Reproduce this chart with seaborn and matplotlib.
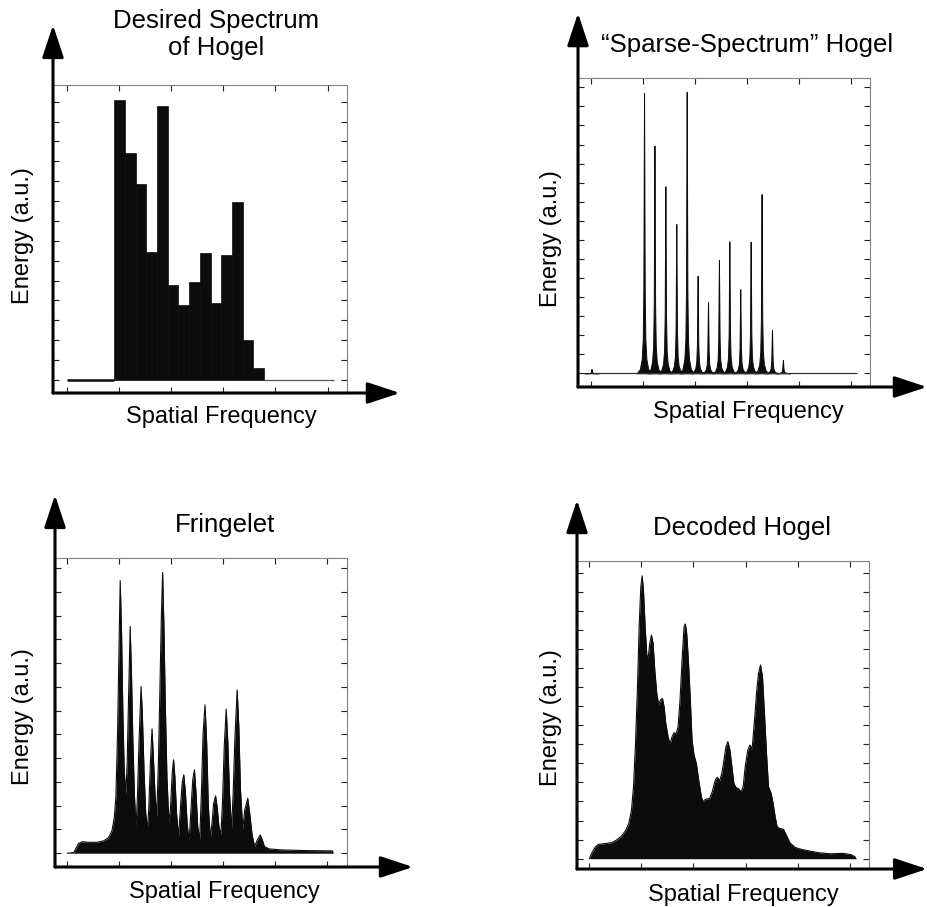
import numpy as np
import pandas as pd
import matplotlib
matplotlib.use('Agg')
import matplotlib.pyplot as plt
import seaborn as sns

# frequency axis runs in tick units (0..5); energy axis in tick units too
FREQ_MIN, FREQ_MAX = 0.0, 5.12

# centre frequencies of the 14 hogel components
FREQ = [1.02, 1.22, 1.43, 1.64, 1.84, 2.05, 2.25, 2.46, 2.66, 2.87, 3.07, 3.28, 3.48, 3.69]

# desired spectrum, one bar per component
DESIRED = [14.1, 11.4, 9.87, 6.45, 13.8, 4.76, 3.77, 4.91, 6.4, 3.86, 6.29, 8.95, 2.0, 0.59]
BAR_START = 0.912
BAR_WIDTH = 0.2048

# sparse-spectrum hogel: small DC spike + one spike per component
SPARSE_FREQ = [0.01] + FREQ
SPARSE = [0.23, 14.71, 11.94, 9.81, 7.83, 14.76, 5.11, 3.75, 5.95, 6.92, 4.41, 6.90, 9.40, 2.28, 0.70]

# fringelet spectrum (freq, energy)
FRINGELET = [
    (0.0, 0.0), (0.128, 0.03), (0.179, 0.25), (0.223, 0.42), (0.287, 0.48), (0.415, 0.46),
    (0.574, 0.46), (0.702, 0.52), (0.798, 0.66), (0.862, 0.95), (0.906, 1.47), (0.938, 2.38),
    (0.970, 5.05), (0.996, 8.42), (1.021, 11.47), (1.047, 9.26), (1.072, 5.89), (1.098, 3.51),
    (1.130, 2.45), (1.155, 3.79), (1.181, 6.45), (1.213, 9.54), (1.238, 7.57), (1.264, 4.77),
    (1.296, 2.38), (1.327, 1.12), (1.353, 2.38), (1.385, 4.77), (1.423, 7.01), (1.449, 5.75),
    (1.481, 3.37), (1.512, 1.68), (1.544, 1.01), (1.570, 1.82), (1.602, 3.79), (1.634, 5.23),
    (1.659, 4.07), (1.691, 2.52), (1.723, 1.51), (1.755, 3.65), (1.787, 7.01), (1.812, 9.82),
    (1.838, 11.81), (1.863, 9.54), (1.889, 6.31), (1.921, 3.23), (1.959, 1.26), (1.991, 1.96),
    (2.023, 3.37), (2.049, 3.93), (2.074, 3.23), (2.106, 1.68), (2.144, 0.70), (2.183, 1.96),
    (2.214, 2.95), (2.246, 3.30), (2.278, 2.52), (2.310, 1.26), (2.348, 0.49), (2.387, 1.96),
    (2.419, 3.09), (2.451, 3.51), (2.482, 2.52), (2.514, 1.12), (2.553, 0.59), (2.585, 2.52),
    (2.617, 5.05), (2.655, 6.24), (2.687, 4.63), (2.719, 1.96), (2.757, 0.63), (2.789, 1.26),
    (2.821, 2.10), (2.859, 2.41), (2.891, 1.89), (2.923, 1.12), (2.961, 0.77), (2.993, 2.24),
    (3.025, 4.49), (3.063, 6.06), (3.095, 4.63), (3.127, 2.52), (3.165, 1.01), (3.197, 2.52),
    (3.229, 4.77), (3.274, 6.87), (3.306, 5.33), (3.338, 2.66), (3.382, 1.01), (3.420, 1.82),
    (3.478, 2.31), (3.52, 1.6), (3.56, 0.8), (3.61, 0.28), (3.66, 0.55), (3.72, 0.77),
    (3.76, 0.55), (3.80, 0.28), (3.89, 0.18), (4.12, 0.14), (4.60, 0.11), (5.11, 0.10), (5.12, 0.0),
]

# decoded hogel spectrum (freq, energy)
DECODED = [
    (0.0, 0.0), (0.045, 0.28), (0.108, 0.59), (0.172, 0.75), (0.300, 0.79), (0.428, 0.84),
    (0.523, 0.98), (0.619, 1.19), (0.696, 1.47), (0.759, 1.85), (0.810, 2.55), (0.849, 3.78),
    (0.887, 6.05), (0.925, 9.02), (0.957, 12.17), (0.989, 14.27), (1.015, 14.83), (1.040, 14.09),
    (1.072, 12.17), (1.104, 10.68), (1.130, 10.51), (1.161, 11.29), (1.193, 11.73), (1.225, 11.29),
    (1.257, 9.90), (1.295, 8.67), (1.334, 8.06), (1.366, 8.32), (1.404, 8.41), (1.436, 7.97),
    (1.468, 7.10), (1.512, 6.40), (1.551, 6.01), (1.589, 6.40), (1.627, 6.61), (1.666, 6.54),
    (1.704, 6.92), (1.742, 8.32), (1.781, 10.42), (1.819, 12.17), (1.844, 12.31), (1.870, 11.82),
    (1.902, 10.42), (1.940, 8.32), (1.972, 6.22), (2.010, 5.44), (2.055, 5.00), (2.100, 4.13),
    (2.151, 3.25), (2.183, 2.99), (2.227, 3.11), (2.310, 3.16), (2.361, 3.51), (2.419, 4.13),
    (2.457, 4.27), (2.502, 4.09), (2.546, 4.48), (2.585, 5.17), (2.623, 5.87), (2.661, 6.14),
    (2.700, 5.70), (2.738, 4.83), (2.776, 3.95), (2.814, 3.74), (2.865, 3.67), (2.916, 3.51),
    (2.955, 3.78), (2.993, 4.83), (3.044, 5.70), (3.082, 5.96), (3.127, 5.79), (3.172, 7.27),
    (3.210, 8.67), (3.248, 9.72), (3.287, 10.16), (3.325, 9.55), (3.363, 7.62), (3.402, 5.52),
    (3.440, 3.78), (3.491, 3.43), (3.529, 2.90), (3.568, 2.20), (3.606, 1.68), (3.650, 1.59),
    (3.73, 1.54), (3.79, 1.19), (3.85, 0.84), (3.95, 0.59), (4.07, 0.49), (4.23, 0.40),
    (4.42, 0.31), (4.62, 0.26), (4.87, 0.28), (5.03, 0.21), (5.10, 0.10), (5.12, 0.0),
]

TITLES = ['Desired Spectrum\nof Hogel', '\u201cSparse-Spectrum\u201d Hogel', 'Fringelet', 'Decoded Hogel']
XLABEL = 'Spatial Frequency'
YLABEL = 'Energy (a.u.)'

# shape of one spike in the sparse spectrum (offset in freq, fraction of height)
SPIKE_DX = [-0.14, -0.08, -0.045, -0.025, -0.013, -0.006, 0.0, 0.006, 0.013, 0.025, 0.045, 0.08, 0.14]
SPIKE_REL = [0.0, 0.015, 0.05, 0.12, 0.3, 0.7, 1.0, 0.7, 0.3, 0.12, 0.05, 0.015, 0.0]

INK = '#0c0c0c'
W, H = 927, 907

sns.set_style('white')
plt.rcParams['font.family'] = ['Liberation Sans', 'DejaVu Sans']
plt.rcParams['text.color'] = 'black'

fig = plt.figure(figsize=(W / 100, H / 100), dpi=100)

# layout in pixels: box (left, top, right, bottom), limits, title/label anchors, arrow tips
panels = [
    dict(box=(53, 85, 347, 393), xlim=(-0.262, 5.37), ylim=(-0.654, 14.84), ny=15,
         title=(216, 55.5), xl=(221, 423), yl=(23, 236), tips=(1.18, 1.195)),
    dict(box=(578, 78, 870, 387), xlim=(-0.25, 5.365), ylim=(-0.72, 15.49), ny=16,
         title=(747, 51.7), xl=(748, 418), yl=(551, 239), tips=(1.195, 1.21)),
    dict(box=(55, 558, 347, 867), xlim=(-0.235, 5.39), ylim=(-0.58, 12.42), ny=13,
         title=(225, 531.7), xl=(224, 898), yl=(23, 717), tips=(1.226, 1.204)),
    dict(box=(577, 561, 869, 869), xlim=(-0.236, 5.37), ylim=(-0.54, 15.61), ny=16,
         title=(742, 535), xl=(743, 900.5), yl=(551, 718), tips=(1.199, 1.198)),
]

axes = []
for p in panels:
    l, t, r, b = p['box']
    ax = fig.add_axes([l / W, 1 - b / H, (r - l) / W, (b - t) / H])
    axes.append(ax)

# panel 1: desired spectrum as a weighted histogram
ax = axes[0]
df = pd.DataFrame({'freq': FREQ, 'energy': DESIRED})
bar_end = BAR_START + BAR_WIDTH * len(DESIRED)
sns.histplot(data=df, x='freq', weights='energy', binwidth=BAR_WIDTH,
             binrange=(BAR_START, bar_end), ax=ax, color=INK, alpha=1,
             edgecolor=INK, linewidth=0.5)
ax.hlines(0, FREQ_MIN, BAR_START, color=INK, lw=1.8)
ax.hlines(0, bar_end, FREQ_MAX, color='#555555', lw=0.9)

# panel 2: sparse spectrum spikes
ax = axes[1]
ax.hlines(0, FREQ_MIN, FREQ_MAX, color='#333333', lw=0.9)
for f, h in zip(SPARSE_FREQ, SPARSE):
    xs = f + np.array(SPIKE_DX)
    ys = h * np.array(SPIKE_REL)
    ax.fill_between(xs, 0, ys, color=INK, lw=0.7, edgecolor=INK)

# panels 3 and 4: continuous spectra
for ax, trace in [(axes[2], FRINGELET), (axes[3], DECODED)]:
    xs = [q[0] for q in trace]
    ys = [q[1] for q in trace]
    ax.fill_between(xs, 0, ys, color=INK, lw=0)
    sns.lineplot(x=xs, y=ys, ax=ax, color=INK, lw=0.8, sort=False, estimator=None)

for ax, p, title in zip(axes, panels, TITLES):
    ax.set_xlim(*p['xlim'])
    ax.set_ylim(*p['ylim'])
    ax.set_xticks(range(6))
    ax.set_yticks(range(p['ny']))
    ax.set_xlabel('')
    ax.set_ylabel('')
    ax.tick_params(direction='in', length=4.5, width=0.8, color='#222222',
                   top=True, right=True, bottom=True, left=True,
                   labelbottom=False, labelleft=False)
    for s in ax.spines.values():
        s.set_color('#808080')
        s.set_linewidth(0.8)
    ax.grid(False)

    # thick axes with arrow heads
    tx, ty = p['tips']
    arrow = dict(arrowstyle='-|>,head_length=1.0,head_width=0.33', mutation_scale=20,
                 lw=2.2, color='black', shrinkA=0, shrinkB=0)
    ax.annotate('', xy=(0, ty), xytext=(0, 0), xycoords='axes fraction',
                arrowprops=arrow, annotation_clip=False)
    ax.annotate('', xy=(tx, 0), xytext=(0, 0), xycoords='axes fraction',
                arrowprops=arrow, annotation_clip=False)

    x, y = p['title']
    fig.text(x / W, 1 - y / H, title, ha='center', va='baseline', fontsize=18.5, color='black')
    x, y = p['xl']
    fig.text(x / W, 1 - y / H, XLABEL, ha='center', va='baseline', fontsize=17, color='black')
    x, y = p['yl']
    fig.text(x / W, 1 - y / H, YLABEL, ha='center', va='center', rotation=90,
             fontsize=17, color='black')

fig.savefig('out.png', dpi=100)
